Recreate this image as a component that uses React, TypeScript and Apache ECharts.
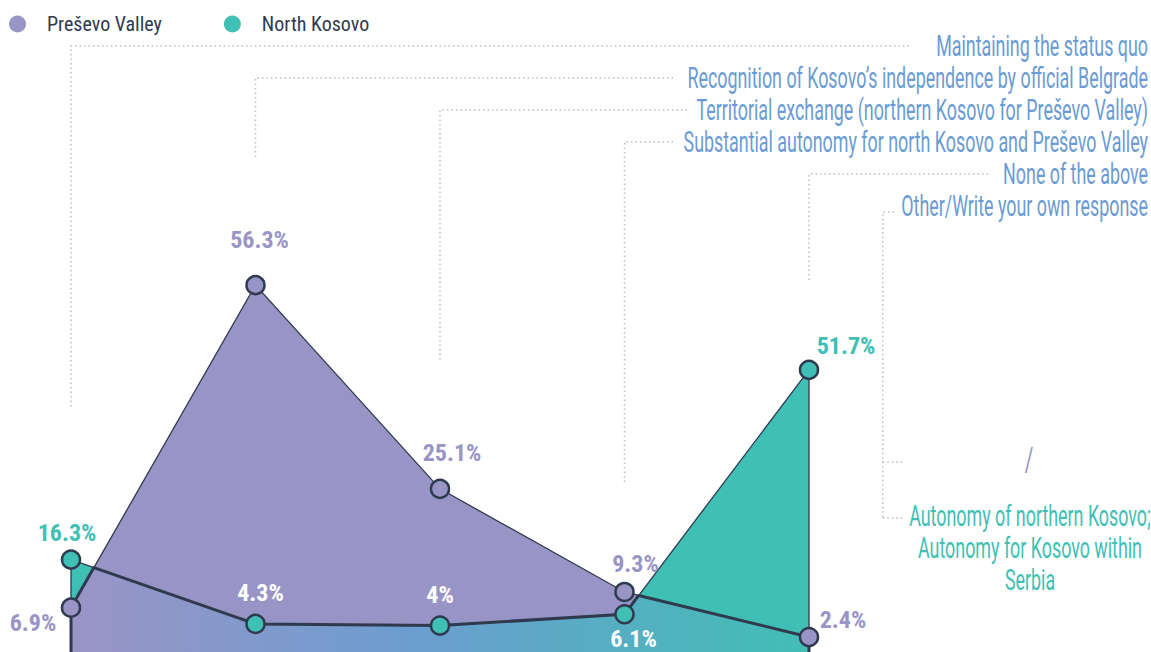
import React, { useEffect, useRef } from "react";
import * as echarts from "echarts";

// ---------- data ----------
const categories = [
  "Maintaining the status quo",
  "Recognition of Kosovo’s independence by official Belgrade",
  "Territorial exchange (northern Kosovo for Preševo Valley)",
  "Substantial autonomy for north Kosovo and Preševo Valley",
  "None of the above",
];
const otherCategory = "Other/Write your own response";
const seriesNames = ["Preševo Valley", "North Kosovo"];
const presevoValues = [6.9, 56.3, 25.1, 9.3, 2.4];
const northKosovoValues = [16.3, 4.3, 4, 6.1, 51.7];
const presevoOther = "/";
const northKosovoOther = "Autonomy of northern Kosovo;\nAutonomy for Kosovo within\nSerbia";

// ---------- styling ----------
const PURPLE = "#9994c6";
const TEAL = "#40bfb4";
const DARK = "#2f3a4f";
const BLUE_TEXT = "#6a9bd3";
const LEADER = "#bdbdbd";
const PRESEVO_MIN = -0.35;
const PRESEVO_MAX = 60.15;
const KOSOVO_MIN = -1.5;
const KOSOVO_MAX = 72.2;
const NARROW = "'Liberation Sans Narrow', 'Roboto Condensed', 'DejaVu Sans Condensed', 'Arial Narrow', sans-serif";
const LABEL_FONT_SIZE = 29;
const LABEL_FONT = `${LABEL_FONT_SIZE}px Roboto`;

const presevoLabelOffsets = [[-38, 15], [4, -45], [12, -36], [11, -28], [34, -17]];
const kosovoLabelOffsets = [[-4, -27], [5, -31], [0, -31], [9, 25], [37, -24]];
const kosovoLabelColors = [TEAL, "#ffffff", "#ffffff", "#ffffff", TEAL];

// leader layout for the right-hand labels: label centre y, leader end x, leader drop y
const labelCenterY = [46, 78, 110, 142, 174, 206];
const leaderEndX = [909, 673, 687, 673, 988, 894];
const leaderDropY = [407, 160, 360, 482, 283, 518];

function measure(text: string, font: string): number {
  const ctx = document.createElement("canvas").getContext("2d");
  if (!ctx) return text.length * 10;
  ctx.font = font;
  return ctx.measureText(text).width;
}

export default function App() {
  const ref = useRef<HTMLDivElement>(null);

  useEffect(() => {
    if (!ref.current) return;
    const chart = echarts.init(ref.current, undefined, { renderer: "svg" });
    // map a North Kosovo value onto the Preševo axis (same pixel position)
    const toPresevoScale = (v: number) =>
      PRESEVO_MIN + ((v - KOSOVO_MIN) / (KOSOVO_MAX - KOSOVO_MIN)) * (PRESEVO_MAX - PRESEVO_MIN);

    const labelBase = {
      show: true,
      position: "inside",
      formatter: "{c}%",
      fontFamily: NARROW,
      fontWeight: "bold",
      fontSize: 24,
    };

    chart.setOption({
      animation: false,
      grid: { left: 71, right: 342, top: 260, bottom: 45 },
      xAxis: { type: "category", data: categories, boundaryGap: false, show: false },
      yAxis: [
        { type: "value", min: PRESEVO_MIN, max: PRESEVO_MAX, show: false },
        { type: "value", min: KOSOVO_MIN, max: KOSOVO_MAX, show: false },
      ],
      legend: {
        data: seriesNames,
        left: 9,
        top: 14,
        padding: 0,
        icon: "circle",
        itemWidth: 17,
        itemHeight: 17,
        itemGap: 62,
        itemStyle: { borderWidth: 0 },
        textStyle: { color: DARK, fontSize: 20, fontFamily: NARROW, padding: [0, 0, 0, 16] },
      },
      series: [
        {
          type: "custom",
          name: "areas",
          xAxisIndex: 0,
          yAxisIndex: 0,
          z: 1,
          silent: true,
          data: [[0, 0]],
          renderItem: (_params: any, api: any) => {
            const P = presevoValues.map((v, i) => api.coord([i, v]));
            const T = northKosovoValues.map((v, i) => api.coord([i, toPresevoScale(v)]));
            const base = api.coord([0, PRESEVO_MIN])[1];
            const n = P.length;
            const x0 = P[0][0];
            const xn = P[n - 1][0];
            const tealPoly = [...T, [xn, base], [x0, base]];
            const purplePoly = [...P, [xn, base], [x0, base]];
            const env: number[][] = [];
            for (let i = 0; i < n; i++) {
              env.push(P[i][1] > T[i][1] ? P[i] : T[i]);
              if (i < n - 1) {
                const d0 = P[i][1] - T[i][1];
                const d1 = P[i + 1][1] - T[i + 1][1];
                if (d0 * d1 < 0) {
                  const t = d0 / (d0 - d1);
                  env.push([
                    P[i][0] + t * (P[i + 1][0] - P[i][0]),
                    P[i][1] + t * (P[i + 1][1] - P[i][1]),
                  ]);
                }
              }
            }
            env.push([xn, base], [x0, base]);
            return {
              type: "group",
              children: [
                { type: "polygon", shape: { points: tealPoly }, style: { fill: TEAL, stroke: DARK, lineWidth: 1.3 } },
                { type: "polygon", shape: { points: purplePoly }, style: { fill: PURPLE, stroke: DARK, lineWidth: 1.3 } },
                {
                  type: "polygon",
                  shape: { points: env },
                  style: {
                    fill: new echarts.graphic.LinearGradient(0, 0, 1, 0, [
                      { offset: 0, color: "#9b94c6" },
                      { offset: 0.45, color: "#6d9dd0" },
                      { offset: 1, color: "#41beb5" },
                    ]),
                    stroke: DARK,
                    lineWidth: 3,
                    lineJoin: "round",
                  },
                },
              ],
            };
          },
        },
        {
          name: seriesNames[0],
          type: "line",
          yAxisIndex: 0,
          z: 5,
          symbol: "circle",
          symbolSize: 18,
          itemStyle: { color: PURPLE, borderColor: DARK, borderWidth: 2.5 },
          lineStyle: { width: 0, opacity: 0 },
          label: { ...labelBase, color: PURPLE },
          data: presevoValues.map((v, i) => ({ value: v, label: { offset: presevoLabelOffsets[i] } })),
        },
        {
          name: seriesNames[1],
          type: "line",
          yAxisIndex: 1,
          z: 5,
          symbol: "circle",
          symbolSize: 18,
          itemStyle: { color: TEAL, borderColor: DARK, borderWidth: 2.5 },
          lineStyle: { width: 0, opacity: 0 },
          label: { ...labelBase, color: TEAL },
          data: northKosovoValues.map((v, i) => ({
            value: v,
            label: { offset: kosovoLabelOffsets[i], color: kosovoLabelColors[i] },
          })),
        },
      ],
    });

    // leaders & labels
    const xs = categories.map((c) => chart.convertToPixel({ xAxisIndex: 0 }, c) as number);
    const otherX = xs[xs.length - 1] + (xs[xs.length - 1] - xs[xs.length - 2]) * 0.4;
    const sx = 461 / measure(categories[1], LABEL_FONT);
    const allLabels = [...categories, otherCategory];
    const leaderStyle = { stroke: LEADER, lineWidth: 1.5, lineDash: [1.5, 3], fill: null };
    const graphics: any[] = [];
    allLabels.forEach((lab, i) => {
      const lx = i < xs.length ? xs[i] : otherX;
      const hy = i < 5 ? labelCenterY[i] : labelCenterY[i] + 6;
      graphics.push({
        type: "polyline",
        silent: true,
        shape: { points: [[leaderEndX[i], hy], [lx, hy], [lx, leaderDropY[i]]] },
        style: leaderStyle,
      });
      graphics.push({
        type: "text",
        x: 1148,
        y: labelCenterY[i],
        scaleX: sx,
        silent: true,
        style: { text: lab, font: LABEL_FONT, fill: BLUE_TEXT, textAlign: "right", textVerticalAlign: "middle" },
      });
    });
    // branches for the "Other" answers
    graphics.push({
      type: "polyline",
      silent: true,
      shape: { points: [[otherX, 462], [otherX + 20, 462]] },
      style: leaderStyle,
    });
    graphics.push({
      type: "polyline",
      silent: true,
      shape: { points: [[otherX, 518], [otherX + 20, 518]] },
      style: leaderStyle,
    });
    graphics.push({
      type: "text",
      x: 1029,
      y: 460,
      scaleX: sx,
      silent: true,
      style: { text: presevoOther, font: "34px Roboto", fill: PURPLE, textAlign: "center", textVerticalAlign: "middle" },
    });
    graphics.push({
      type: "text",
      x: 1030,
      y: 500,
      scaleX: sx,
      silent: true,
      style: {
        text: northKosovoOther,
        font: LABEL_FONT,
        fill: TEAL,
        textAlign: "center",
        textVerticalAlign: "top",
        lineHeight: 32,
      },
    });
    chart.setOption({ graphic: graphics });

    return () => chart.dispose();
  }, []);

  return (
    <div
      ref={ref}
      style={{ position: "fixed", left: 0, top: 0, width: 1151, height: 700, background: "#ffffff" }}
    />
  );
}
